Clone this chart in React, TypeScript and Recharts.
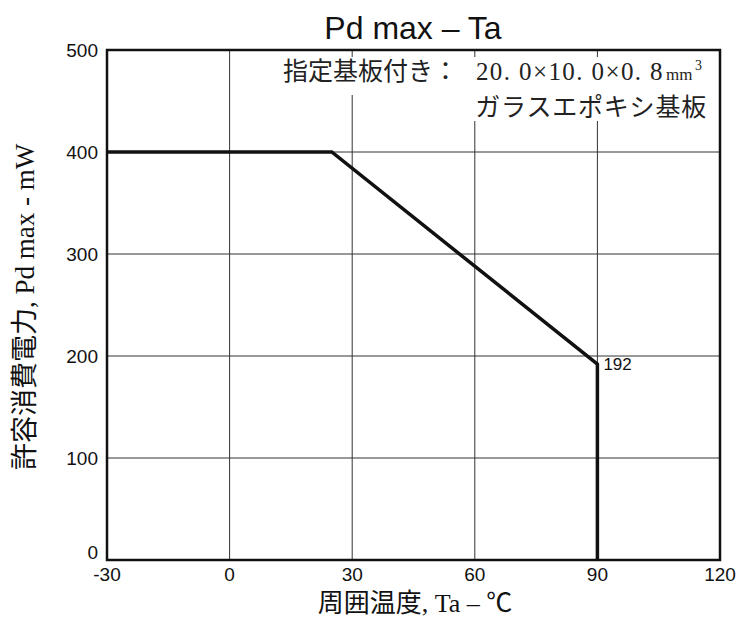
import React from "react"
import {
  LineChart,
  Line,
  XAxis,
  YAxis,
  CartesianGrid,
  ReferenceArea,
  LabelList,
} from "recharts"

const temps = [-30, 25, 90, 90]
const power = [400, 400, 192, 0]
const pointLabels = ["", "", "192", ""]
const xTicks = [-30, 0, 30, 60, 90, 120]
const yTicks = [0, 100, 200, 300, 400, 500]

const data = temps.map((t, i) => ({ ta: t, pd: power[i], label: pointLabels[i] }))

const sans = "'Liberation Sans', Arial, sans-serif"
const serif = "'Liberation Serif', 'Noto Sans CJK JP', serif"
const cjk = "'Noto Sans CJK JP', sans-serif"

function YTick(props: any) {
  const { x, y, payload } = props
  const dy = payload.value === 0 ? -1 : 7
  return (
    <text x={x} y={y + dy} textAnchor="end" fontSize={19} fontFamily={sans} fill="#111">
      {payload.value}
    </text>
  )
}

export default function App() {
  return (
    <div style={{ position: "absolute", left: 0, top: 0, width: 740, height: 620, background: "#fff" }}>
      <LineChart
        width={740}
        height={620}
        data={data}
        margin={{ top: 50, right: 20, left: 0, bottom: 0 }}
      >
        <CartesianGrid stroke="#333" strokeWidth={1} />
        <XAxis
          type="number"
          dataKey="ta"
          domain={[-30, 120]}
          ticks={xTicks}
          height={60}
          tickSize={0}
          tickMargin={8}
          axisLine={false}
          tick={{ fontSize: 19, fontFamily: sans, fill: "#111" }}
        />
        <YAxis
          type="number"
          domain={[0, 500]}
          ticks={yTicks}
          width={107}
          tickSize={0}
          tickMargin={9}
          axisLine={false}
          tick={<YTick />}
        />
        <ReferenceArea x1={-30} x2={120} y1={0} y2={500} fill="none" stroke="#111" strokeWidth={2.5} ifOverflow="visible" />
        <g>
          <rect x={279} y={57} width={433} height={38} fill="#fff" />
          <rect x={465} y={95} width={247} height={26} fill="#fff" />
          <text x={283} y={80} fontSize={25} fontFamily={cjk} fill="#222">
            指定基板付き：
          </text>
          <text x={664} y={80} textAnchor="end" fontSize={25} fontFamily={serif} letterSpacing={1.4} fill="#222">
            20. 0×10. 0×0. 8
          </text>
          <text x={666} y={80} fontSize={17} fontFamily={serif} fill="#222">
            mm
          </text>
          <text x={695} y={70} fontSize={14} fontFamily={serif} fill="#222">
            3
          </text>
          <text x={707} y={116} textAnchor="end" fontSize={25} fontFamily={cjk} letterSpacing={0.8} fill="#222">
            ガラスエポキシ基板
          </text>
        </g>
        <Line
          type="linear"
          dataKey="pd"
          stroke="#111"
          strokeWidth={3.5}
          dot={false}
          isAnimationActive={false}
        >
          <LabelList dataKey="label" position="right" offset={6} fontSize={17} fontFamily={sans} fill="#111" />
        </Line>
        <text x={413} y={39} textAnchor="middle" fontSize={32} fontFamily={sans} fill="#111">
          Pd max – Ta
        </text>
        <text x={415} y={612} textAnchor="middle" fontSize={26} fontFamily={serif} fill="#111">
          周囲温度, Ta – ℃
        </text>
        <text
          x={34}
          y={307}
          textAnchor="middle"
          fontSize={27}
          fontFamily={serif}
          fill="#111"
          transform="rotate(-90 34 307)"
        >
          許容消費電力, Pd max - mW
        </text>
      </LineChart>
    </div>
  )
}
